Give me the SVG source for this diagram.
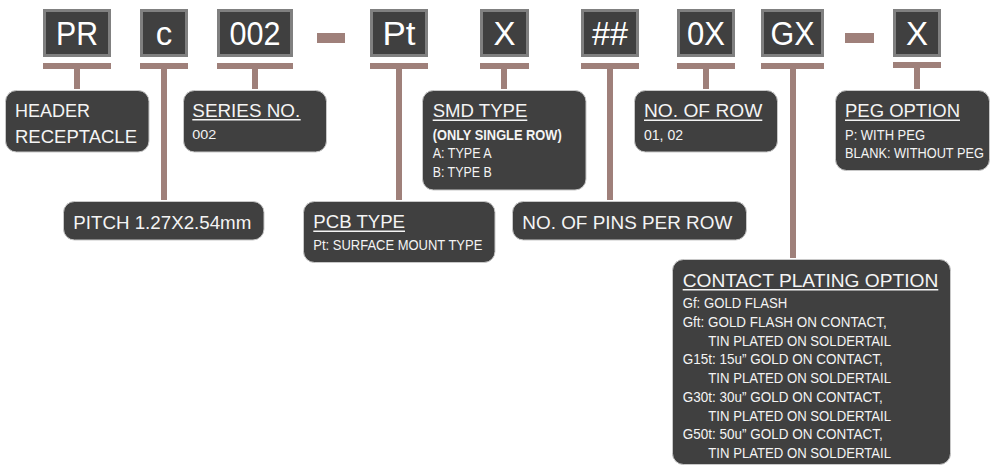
<svg xmlns="http://www.w3.org/2000/svg" width="991" height="466" viewBox="0 0 991 466">
<style>
.code{fill:#404040;stroke:#808080;stroke-width:3}
.ct{font-family:"Liberation Sans",Arial,sans-serif;font-size:33px;fill:#ffffff;text-anchor:middle}
.box{fill:#404040;stroke:#c8c8c8;stroke-width:1}
.conn{fill:#9f807a}
.t{font-family:"Liberation Sans",Arial,sans-serif;fill:#f4f4f4}
.big{font-size:18px}
.sm{font-size:14px}
.ul{stroke:#f4f4f4;stroke-width:1.5}
</style>
<rect width="991" height="466" fill="#ffffff"/>
<g id="connectors">
<rect class="conn" x="43" y="63" width="68" height="6"/><rect class="conn" x="74" y="69" width="6" height="20"/>
<rect class="conn" x="140" y="63" width="48" height="6"/><rect class="conn" x="161" y="69" width="6" height="131"/>
<rect class="conn" x="217" y="63" width="76" height="6"/><rect class="conn" x="252" y="69" width="6" height="20"/>
<rect class="conn" x="317" y="33" width="28" height="10"/>
<rect class="conn" x="370" y="63" width="58" height="6"/><rect class="conn" x="396" y="69" width="6" height="131"/>
<rect class="conn" x="480" y="63" width="49" height="6"/><rect class="conn" x="501" y="69" width="6" height="20"/>
<rect class="conn" x="581" y="63" width="58" height="6"/><rect class="conn" x="607" y="69" width="6" height="131"/>
<rect class="conn" x="677" y="63" width="58" height="6"/><rect class="conn" x="703" y="69" width="6" height="20"/>
<rect class="conn" x="761" y="63" width="63" height="6"/><rect class="conn" x="790" y="69" width="6" height="189"/>
<rect class="conn" x="845" y="33" width="29" height="10"/>
<rect class="conn" x="893" y="62" width="48" height="6"/><rect class="conn" x="914" y="68" width="6" height="21"/>
</g>
<g id="code-PR"><rect class="code" x="44.5" y="10.5" width="65" height="45"/><text class="ct" x="77" y="44.5" textLength="42" lengthAdjust="spacingAndGlyphs">PR</text></g>
<g id="code-c"><rect class="code" x="141.5" y="10.5" width="45" height="45"/><text class="ct" x="164" y="44.5">c</text></g>
<g id="code-002"><rect class="code" x="218.5" y="10.5" width="73" height="45"/><text class="ct" x="255" y="44.5" textLength="51" lengthAdjust="spacingAndGlyphs">002</text></g>
<g id="code-Pt"><rect class="code" x="371.5" y="10.5" width="55" height="45"/><text class="ct" x="399" y="44.5" textLength="33" lengthAdjust="spacingAndGlyphs">Pt</text></g>
<g id="code-X1"><rect class="code" x="481.5" y="10.5" width="46" height="45"/><text class="ct" x="504.5" y="44.5">X</text></g>
<g id="code-hash"><rect class="code" x="582.5" y="10.5" width="55" height="45"/><text class="ct" x="610" y="44.5" textLength="36" lengthAdjust="spacingAndGlyphs">##</text></g>
<g id="code-0X"><rect class="code" x="678.5" y="10.5" width="55" height="45"/><text class="ct" x="706" y="44.5" textLength="38" lengthAdjust="spacingAndGlyphs">0X</text></g>
<g id="code-GX"><rect class="code" x="762.5" y="10.5" width="60" height="45"/><text class="ct" x="792.5" y="44.5" textLength="44" lengthAdjust="spacingAndGlyphs">GX</text></g>
<g id="code-X2"><rect class="code" x="894.5" y="10.5" width="45" height="45"/><text class="ct" x="917" y="44.5">X</text></g>

<g id="header"><rect class="box" x="5.5" y="90.5" width="143.5" height="61.5" rx="11"/>
<text class="t big" x="15" y="117.3">HEADER</text>
<text class="t big" x="15" y="143.3" textLength="122" lengthAdjust="spacingAndGlyphs">RECEPTACLE</text></g>

<g id="series"><rect class="box" x="183.5" y="90.5" width="143" height="61.5" rx="11"/>
<text class="t big" x="192.3" y="116.7" textLength="108" lengthAdjust="spacingAndGlyphs">SERIES NO.</text>
<line class="ul" x1="192.3" y1="119.8" x2="300.7" y2="119.8"/>
<text class="t" font-size="13.5" x="192.3" y="139.3" textLength="24" lengthAdjust="spacingAndGlyphs">002</text></g>

<g id="pitch"><rect class="box" x="63.5" y="201.5" width="200.5" height="38.5" rx="11"/>
<text class="t big" x="73.3" y="229" textLength="178" lengthAdjust="spacingAndGlyphs">PITCH  1.27X2.54mm</text></g>

<g id="pcb"><rect class="box" x="303.5" y="201.5" width="191.5" height="61" rx="11"/>
<text class="t big" x="313.3" y="228.3" textLength="91.7" lengthAdjust="spacingAndGlyphs">PCB TYPE</text>
<line class="ul" x1="313.3" y1="231.3" x2="405" y2="231.3"/>
<text class="t" font-size="15" x="313.3" y="250" textLength="169" lengthAdjust="spacingAndGlyphs">Pt: SURFACE MOUNT TYPE</text></g>

<g id="smd"><rect class="box" x="422.5" y="90.5" width="163.5" height="99.5" rx="11"/>
<text class="t big" x="432.7" y="116.7" textLength="94.6" lengthAdjust="spacingAndGlyphs">SMD TYPE</text>
<line class="ul" x1="432.7" y1="120.3" x2="527.3" y2="120.3"/>
<text class="t" font-size="14" font-weight="bold" x="432.7" y="140" textLength="129" lengthAdjust="spacingAndGlyphs">(ONLY SINGLE ROW)</text>
<text class="t sm" x="432.7" y="158.3" textLength="59" lengthAdjust="spacingAndGlyphs">A: TYPE A</text>
<text class="t sm" x="432.7" y="176.7" textLength="59" lengthAdjust="spacingAndGlyphs">B: TYPE B</text></g>

<g id="pins"><rect class="box" x="512.5" y="201.5" width="234" height="38.5" rx="11"/>
<text class="t big" x="522.3" y="229" textLength="210" lengthAdjust="spacingAndGlyphs">NO. OF PINS PER ROW</text></g>

<g id="row"><rect class="box" x="634.5" y="90.5" width="143" height="61.5" rx="11"/>
<text class="t big" x="644" y="116.7" textLength="118.3" lengthAdjust="spacingAndGlyphs">NO. OF ROW</text>
<line class="ul" x1="644" y1="120.3" x2="762.3" y2="120.3"/>
<text class="t sm" x="644" y="140" textLength="39" lengthAdjust="spacingAndGlyphs">01, 02</text></g>

<g id="peg"><rect class="box" x="835.5" y="90.5" width="154" height="80" rx="11"/>
<text class="t big" x="845" y="116.7" textLength="115" lengthAdjust="spacingAndGlyphs">PEG OPTION</text>
<line class="ul" x1="845" y1="120.3" x2="960" y2="120.3"/>
<text class="t sm" x="845" y="140" textLength="80" lengthAdjust="spacingAndGlyphs">P: WITH PEG</text>
<text class="t sm" x="845" y="158.3" textLength="139" lengthAdjust="spacingAndGlyphs">BLANK: WITHOUT PEG</text></g>

<g id="plating"><rect class="box" x="672.5" y="259.5" width="278" height="205" rx="11"/>
<text class="t" font-size="19" x="682.7" y="286.7" textLength="255.6" lengthAdjust="spacingAndGlyphs">CONTACT PLATING OPTION</text>
<line class="ul" x1="682.7" y1="289.8" x2="938.3" y2="289.8"/>
<text class="t sm" x="682.7" y="307.7" textLength="104.6" lengthAdjust="spacingAndGlyphs">Gf: GOLD FLASH</text>
<text class="t sm" x="682.7" y="326.7" textLength="204" lengthAdjust="spacingAndGlyphs">Gft:  GOLD FLASH ON CONTACT,</text>
<text class="t sm" x="708.3" y="345.7" textLength="182.7" lengthAdjust="spacingAndGlyphs">TIN PLATED ON SOLDERTAIL</text>
<text class="t sm" x="682.7" y="364.3" textLength="200" lengthAdjust="spacingAndGlyphs">G15t:  15u” GOLD ON  CONTACT,</text>
<text class="t sm" x="708.3" y="383" textLength="182.7" lengthAdjust="spacingAndGlyphs">TIN PLATED ON SOLDERTAIL</text>
<text class="t sm" x="682.7" y="401.7" textLength="200" lengthAdjust="spacingAndGlyphs">G30t:  30u” GOLD ON  CONTACT,</text>
<text class="t sm" x="708.3" y="420.7" textLength="182.7" lengthAdjust="spacingAndGlyphs">TIN PLATED ON SOLDERTAIL</text>
<text class="t sm" x="682.7" y="439.3" textLength="200" lengthAdjust="spacingAndGlyphs">G50t:  50u” GOLD ON  CONTACT,</text>
<text class="t sm" x="708.3" y="458.3" textLength="182.7" lengthAdjust="spacingAndGlyphs">TIN PLATED ON SOLDERTAIL</text></g>
</svg>
